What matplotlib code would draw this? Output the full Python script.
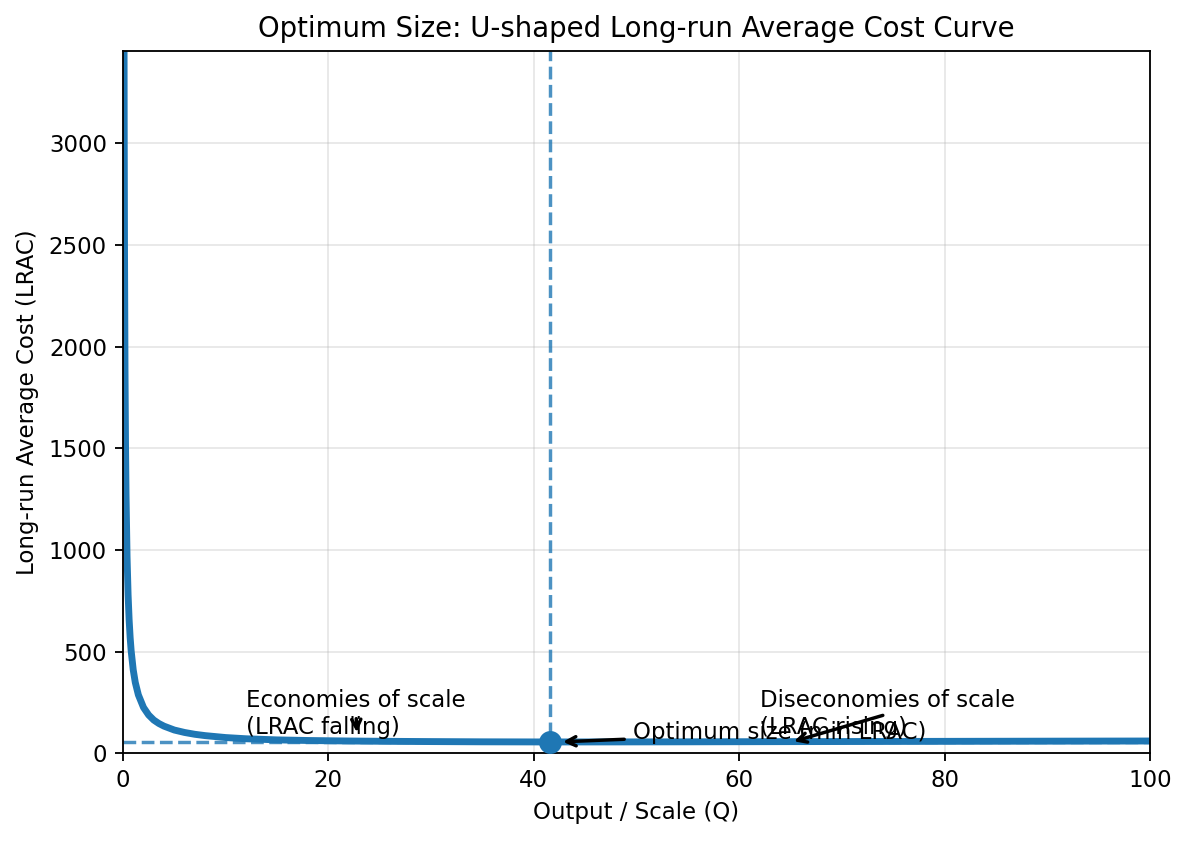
import matplotlib
matplotlib.use('Agg')
import matplotlib.pyplot as plt

# Long-run average cost curve
output_q = [0.1, 0.12, 0.15, 0.2, 0.25, 0.3, 0.4, 0.5, 0.6, 0.7, 0.8, 1.0, 1.2, 1.5,
            2.0, 2.5, 3.0, 3.5, 4.0, 5.0, 6.0, 7.0, 8.0, 10, 12, 15, 18, 22, 26, 30,
            35, 41.6, 48, 55, 62, 70, 80, 90, 100]
lrac = [3740, 3123, 2507, 1890, 1520, 1273, 965, 780, 657, 569, 503, 410, 348, 287,
        225, 188, 163, 146, 133, 114, 102, 93, 86.5, 77, 71, 65.5, 62.5, 60, 58.3, 57.2,
        56, 55.3, 55.5, 56, 56.7, 57.4, 58.3, 59.2, 60]

q_opt = 41.6
lrac_min = 55.3

econ_xy = (22.8, 80)
econ_text_xy = (12, 95)
disecon_xy = (64.9, 52)
disecon_text_xy = (62, 95)
opt_xy = (42.4, 55.3)
opt_text_xy = (49.7, 68)


def main():
    fig = plt.figure(figsize=(7.2, 5.097), dpi=165)
    ax = fig.add_axes([0.1035, 0.1044, 0.8645, 0.835])

    ax.plot(output_q, lrac, color='C0', linewidth=3)
    ax.axvline(q_opt, color='C0', linestyle='--', linewidth=1.5, alpha=0.8)
    ax.axhline(lrac_min, color='C0', linestyle='--', linewidth=1.5, alpha=0.8, zorder=1)
    ax.plot([q_opt], [lrac_min], 'o', color='C0', markersize=9, zorder=5)

    # text overlap between the optimum and diseconomies labels is as in the original
    ax.annotate('Optimum size (min LRAC)', xy=opt_xy, xytext=opt_text_xy,
                arrowprops=dict(arrowstyle='->', color='black', lw=1.5))
    ax.annotate('Economies of scale\n(LRAC falling)', xy=econ_xy, xytext=econ_text_xy,
                arrowprops=dict(arrowstyle='->', color='black', lw=1.5))
    ax.annotate('Diseconomies of scale\n(LRAC rising)', xy=disecon_xy, xytext=disecon_text_xy,
                arrowprops=dict(arrowstyle='->', color='black', lw=1.5))

    ax.set_xlim(0, 100)
    ax.set_ylim(0, 3455)
    ax.set_xlabel('Output / Scale (Q)')
    ax.set_ylabel('Long-run Average Cost (LRAC)')
    ax.set_title('Optimum Size: U-shaped Long-run Average Cost Curve')
    ax.grid(True, alpha=0.3)

    fig.savefig('out.png', dpi=165)


if __name__ == "__main__":
    main()
